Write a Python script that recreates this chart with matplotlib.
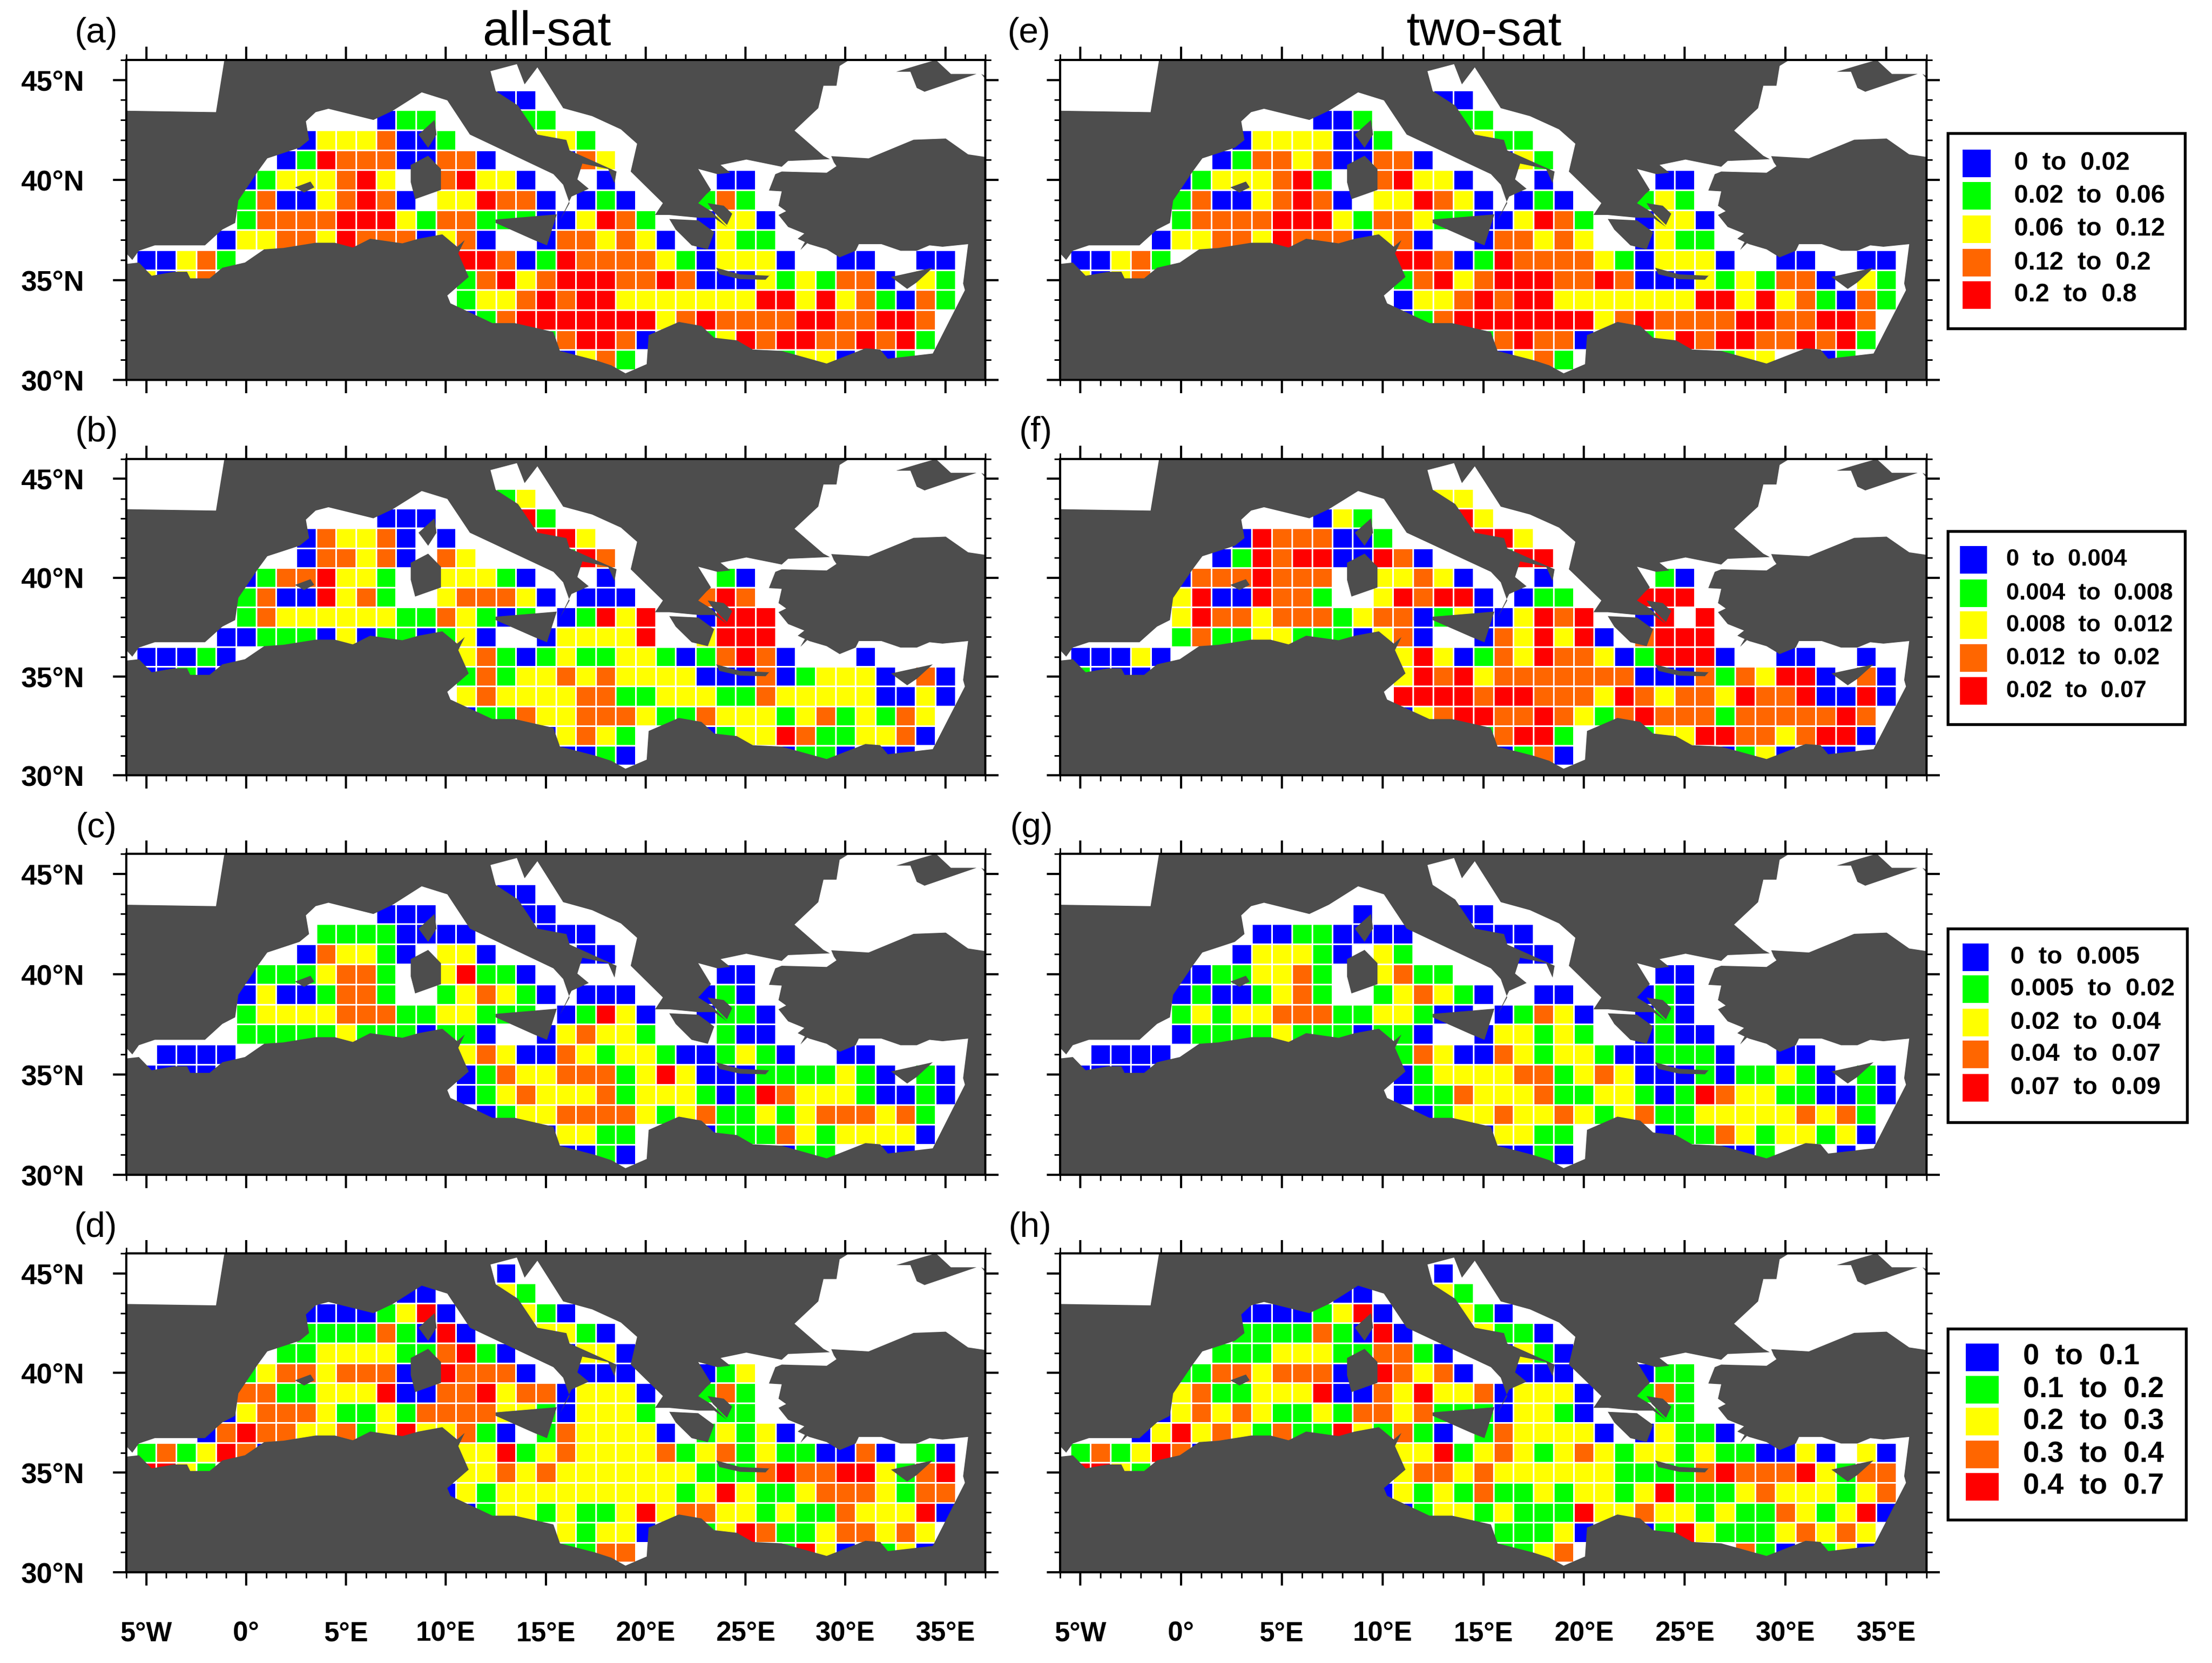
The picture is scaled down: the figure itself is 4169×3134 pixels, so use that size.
import matplotlib
matplotlib.use("Agg")
import matplotlib.pyplot as plt
import numpy as np
from matplotlib.colors import ListedColormap
from matplotlib.patches import Polygon, Rectangle

plt.rcParams['font.family'] = ['Liberation Sans', 'DejaVu Sans']

W, H = 4169, 3134
GRAY = '#4d4d4d'
class_codes = "bgyor"
class_colors = ['#0000ff', '#00ff00', '#ffff00', '#ff6600', '#ff0000']

# class of every 1 degree cell: (lat, first lon, codes), '.' = no data
panel_a = [(44,13,"bb"), (43,7,"bgg"), (43,14,"gg"), (42,3,"byyyobbg"), (42,15,"yyg"),
    (41,2,"bgrooobboob"), (41,16,"boy"), (40,0,"bgyyyory..oryyb"), (40,18,"b"), (40,24,"bb"),
    (39,0,"gobbyorob.yyroob"), (39,17,"bgb"), (39,23,"gog"), (38,0,"goooorrrygooggg"), (38,15,"bbyrog"), (38,23,"byyb"),
    (37,-1,"byyooyrooobyob"), (37,15,"booyoyb"), (37,23,"bygg"), (36,-5,"bbyog"), (36,11,"rrobgrooooygbyyyb"),
    (36,30,"bb"), (36,34,"bb"), (35,-5,"ybyo"), (35,11,"goryorrroorobbbygygoob.yg"),
    (34,11,"gyyororryyyyyyyrryryogbog"), (33,11,"bgorrrrrrryoroooorroorro"),
    (32,15,"gorrob"), (32,23,"gyrorroororg"), (31,16,"byog"), (31,27,"gyyb"), (31,32,"bg")]
panel_b = [(44,13,"gy"), (43,7,"bbb"), (43,14,"rg"), (42,3,"boyyob.b"), (42,15,"rry"),
    (41,3,"booyob.oy"), (41,16,"gro"), (40,0,"bgooryyg..yyygb"), (40,18,"b"), (40,24,"gb"),
    (39,0,"gobbryog..yoooyb"), (39,17,"bbb"), (39,23,"oro"), (38,0,"goyyyyyyggoygbg"), (38,16,"bgryr"), (38,23,"brrr"),
    (37,-1,"bbgggbybggbgyb"), (37,15,"byyyyr"), (37,23,"yrrr"), (36,-5,"bbbgb"), (36,11,"yogbgyggyygbgorob"), (36,31,"b"),
    (35,-5,"bbgb"), (35,11,"gogyyoyoyyyybbbobgyyyb.ob"), (34,11,"yoyyyyooggyyyggoyyyyybbyb"),
    (33,11,"bggoyyoooyggoyyygyogygoy"), (32,15,"byoyg"), (32,23,"bgyyroggyyob"),
    (31,16,"bbgb"), (31,27,"bggb"), (31,32,"bb")]
panel_c = [(44,13,"bb"), (43,7,"bbb"), (43,14,"bb"), (42,4,"ggggbbbb"), (42,15,"bbb"),
    (41,3,"boyygb.yyb"), (41,17,"bb"), (40,0,"bgggyoog..yrggb"), (40,24,"bb"),
    (39,0,"bybbgoog..gyoygb"), (39,17,"bbb"), (39,23,"bgb"), (38,0,"gyyyyoooggyyggg"), (38,16,"bgryb"), (38,23,"bggb"),
    (37,0,"gggggygggbggb"), (37,15,"byoyyg"), (37,24,"gbb"), (36,-4,"bbbb"), (36,11,"yoybboygyygbbgygb"), (36,30,"bb"),
    (35,-5,"bbbb"), (35,11,"bgoyyooogyrybbbggggygb.gb"), (34,11,"bgyoyyyogyyygbgroyyygbbgb"),
    (33,12,"bgyyooooygyoggygyoooyog"), (32,15,"byygg"), (32,23,"bgggoygyyyyb"), (31,16,"bbgb"), (31,27,"bgg"), (31,32,"bb")]
panel_d = [(45,13,"b"), (44,8,"bb"), (44,13,"yg"), (43,3,"bbbbgyrb"), (43,14,"ygb"), (42,3,"ggggogbrb"), (42,15,"yygb"),
    (41,2,"ggyyyyggorgb"), (41,16,"byyb"), (40,0,"gyooyooob.rooob"), (40,17,"bbb"), (40,23,"bgy"),
    (39,0,"ooggyyyrbbooryoob"), (39,17,"yyyb"), (39,23,"gog"),
    (38,-1,"byoooyggygooooyyg"), (38,16,"byyyg"), (38,24,"gg"),
    (37,-2,"borooyyogyryyogb"), (37,15,"goyyyyb"), (37,23,"gygyb"),
    (36,-5,"gogyrob"), (36,11,"yyrgyoyyyyogyogyggbbob.gb"),
    (35,-5,"rryg"), (35,11,"yyoyoyyyyyyygggoroorrygor"),
    (34,10,"bygyyyyyyyyygyryggyoooygoo"),
    (33,11,"bgyygyggyryooyygyggoyyyrb"), (32,16,"ygyyb"), (32,23,"gyroggyooyoy"),
    (31,16,"ggoo"), (31,27,"gryb"), (31,32,"gyb")]
panel_e = [(44,13,"bb"), (43,7,"bbg"), (43,14,"gg"), (42,3,"byyyybbg"), (42,15,"ygg"),
    (41,2,"bgooyobboob"), (41,16,"byg"), (40,0,"bgyyyorg..oryyb"), (40,18,"b"), (40,24,"bb"),
    (39,0,"gobbyorob.yyroyb"), (39,17,"bgb"), (39,23,"gyg"), (38,0,"goooorrrygooygg"), (38,15,"bbyrog"), (38,23,"byyb"),
    (37,-1,"byyooyrooobyob"), (37,15,"booyoy"), (37,23,"bygg"), (36,-5,"bbyog"), (36,11,"rrobgrooooygbyyyb"),
    (36,30,"bb"), (36,34,"bb"), (35,-5,"ybyo"), (35,11,"goryorrroorobbbygygoob.yg"),
    (34,11,"byyororryyyyyyyrryryogbog"), (33,11,"bgorrrrrrryoroooorroorro"),
    (32,15,"goroob"), (32,23,"gyrorroororg"), (31,16,"byog"), (31,27,"gyy"), (31,32,"bg")]
panel_f = [(44,13,"yy"), (43,7,"byg"), (43,14,"ry"), (42,3,"brooobbg"), (42,15,"rry"),
    (41,2,"bgrorrbbrob"), (41,16,"grr"), (40,0,"booorooo..yyoyb"), (40,18,"b"), (40,24,"gb"),
    (39,0,"yrbbroog..yrorrb"), (39,17,"bgg"), (39,23,"rrr"), (38,0,"yrooyooogyoobgy"), (38,15,"bbyror"), (38,23,"br.r"),
    (37,0,"goggyygggbyob"), (37,15,"boyryrb"), (37,23,"orrr"),
    (36,-5,"bbbyb"), (36,11,"yrybgoyrooybgrrrb"), (36,30,"bb"), (36,34,"b"), (35,-5,"gbbb"),
    (35,11,"yroryooooooobbbogoyrrb.ob"), (34,11,"rrrrorroooyroyooyroorbbrb"),
    (33,11,"byorrooroygorooogoooooro"),
    (32,15,"gorrg"), (32,23,"gyyrrooyorrb"), (31,16,"bgob"), (31,27,"bgyb"), (31,32,"bb")]
panel_g = [(43,9,"b"), (43,14,"bb"), (42,4,"bbggbbbb"), (42,15,"bbb"), (41,3,"byyygb.yg"), (41,17,"bb"),
    (40,0,"bbggyyog..yogg"), (40,24,"bb"), (39,0,"bgbbgyog..gyoygb"), (39,18,"bb"), (39,23,"bgb"),
    (38,0,"gygyyoooggyygbb"), (38,16,"bgoyb"), (38,23,"bgb"), (37,0,"bggggygggbggb"), (37,15,"byygyg"), (37,23,"bgbb"),
    (36,-4,"bbbb"), (36,11,"goybboygyygbbgggb"), (36,30,"bb"), (35,-5,"bbbb"), (35,11,"bgyyyyoogyoybbbgbggygb.gb"),
    (34,11,"bggoyyyoggyygbgroyyggbbgb"), (33,12,"bgyyoyyoygyoggyyyyyoyog"), (32,15,"byygg"), (32,24,"bggoygyygyb"),
    (31,16,"bbgb"), (31,27,"bbg"), (31,33,"b")]
panel_h = [(45,13,"b"), (44,8,"bb"), (44,13,"yg"), (43,3,"bbbbgyrb"), (43,14,"ygb"), (42,3,"ggggogbrb"), (42,15,"yggb"),
    (41,2,"gggyyyggoogb"), (41,16,"bygb"), (40,0,"ggooyooob.royob"), (40,17,"bbb"), (40,23,"bgg"),
    (39,0,"yoggyyyrbboyryyob"), (39,17,"yyyb"), (39,23,"gog"), (38,-1,"byoyoyggygooyoggg"), (38,16,"byygb"), (38,24,"gg"),
    (37,-2,"byryoygoggrygogb"), (37,15,"goyyyyb"), (37,23,"byggb"),
    (36,-5,"gogyrob"), (36,11,"yyrgyoygyoygyygyggbbyb.yb"), (35,-5,"rryg"), (35,11,"yooyoyyyyyyggggorooorygoo"),
    (34,10,"bygygoggygyygyrgggyoyyygyo"), (33,11,"bgyygygggryyoyygyggoygyrb"), (32,16,"gggyb"), (32,23,"bgrygggyoyoy"),
    (31,16,"ggyo"), (31,28,"ogb"), (31,32,"gyb")]

# coastlines, lon/lat
europe_lon = [-6,-5.7,-5.37,-4.57,-2.06,-1.19,-0.55,-0.39,0.58,1.06,2.67,3.15,2.99,3.48,4.12,6.37,7.34,8.79,10.07,11.2,15.38,15.87,16.19,15.71,16.29,17.15,16.58,16.83,18.12,18.44,18.54,16.19,16.03,14.58,13.61,12.49,12.23,13.55,13.94,14.58,15.87,17.32,18.76,19.57,19.25,20.86,20.47,21.18,22.63,23.43,24.07,23.27,22.63,23.05,23.27,22.63,23.59,24.24,23.75,25.04,26.81,27.13,29.22,28.9,27.45,28.64,28.9,29.55,29.71,30.19,-1.09,-1.51,-6]
europe_lat = [36.33,36.0,36.46,36.73,36.73,37.52,37.85,38.97,40.42,41.08,41.61,42.0,42.93,43.39,43.56,43.0,43.46,44.38,43.98,42.27,40.29,39.76,38.84,37.98,39.17,39.56,40.03,40.82,40.55,39.83,40.42,41.48,42.0,42.27,43.72,44.45,45.44,45.79,44.78,45.63,43.59,43.19,42.53,41.81,40.42,38.84,38.25,38.25,38.11,38.11,37.65,38.44,38.84,39.3,39.5,40.55,40.29,40.36,40.75,41.02,40.66,40.95,41.04,41.21,42.47,43.59,44.71,44.71,45.7,46,46,43.39,43.46]
south_lon = [-6,-6,-5.37,-4.73,-3.6,-2.96,-2.8,-1.83,-1.19,-0.06,0.9,1.87,3.48,4.44,5.34,6.21,7.82,8.63,9.82,10.56,10.94,10.62,11.14,10.07,10.23,11.36,12.33,13.45,15.38,15.71,17.48,18.28,18.99,20.05,20.15,21.66,22.79,23.43,24.56,25.36,26.81,29.06,31.0,31.74,32.12,34.37,35.98,35.89,36.14,34.86,34.21,33.57,32.76,31.8,30.67,30.51,29.71,29.06,28.19,27.61,27.94,27.13,26.65,27.03,26.65,26.81,26.17,26.49,26.81,29.06,29.55,29.42,29.29,31.16,33.41,35.02,36.14,37,37]
south_lat = [30,35.8,35.87,35.21,35.41,35.41,35.08,35.08,35.61,35.87,36.53,36.6,36.86,36.86,36.62,37.06,36.83,37.06,37.28,36.66,36.99,36.33,35.15,34.22,33.83,33.3,32.84,32.84,32.4,31.45,30.99,30.73,30.33,30.79,32.24,32.9,32.7,32.11,31.98,31.52,31.45,30.82,31.58,31.52,31.06,31.32,34.49,34.82,36.79,36.66,36.73,36.46,36.46,36.79,36.79,36.46,36.13,36.53,36.79,37.06,37.32,37.65,38.25,38.44,38.71,39.43,39.47,40.29,40.42,40.36,40.69,40.88,41.19,41.08,42.01,42.07,41.28,41.15,30]
islands = [
    ([8.63,9.43,9.53,9.11], [42.27,43.0,42.27,41.61]),
    ([8.24,9.11,9.75,9.75,8.46,8.24], [40.75,41.21,40.55,39.5,39.04,39.89]),
    ([2.45,3.22,3.41,2.9], [39.63,39.92,39.63,39.37]),
    ([12.49,15.55,15.06,14.42,12.49], [38.02,38.28,36.73,36.99,37.85]),
    ([21.18,22.63,23.43,23.11,22.3,21.5], [38.05,37.98,37.39,36.53,36.73,37.52]),
    ([23.1,23.91,24.33,24.07,23.37], [38.84,38.71,38.31,37.75,38.44]),
    ([23.53,24.72,26.17,26.26,26.0,24.72,23.69], [35.61,35.28,35.21,35.3,35.01,35.04,35.28]),
    ([32.28,34.37,33.57,33.09], [35.15,35.61,34.88,34.55]),
    ([27.75,28.2,28.0,27.8], [36.5,36.95,36.95,36.6]),
    ([32.54,33.73,34.53,35.28,36.56,33.96,33.57,33.25], [45.41,45.77,46,45.3,45.3,44.41,44.6,45.41]),
    ([36.8,37,37], [45.3,45.2,45.05]),
]

panel_data = [panel_a, panel_b, panel_c, panel_d, panel_e, panel_f, panel_g, panel_h]
panel_names = ['(a)', '(b)', '(c)', '(d)', '(e)', '(f)', '(g)', '(h)']
row_tops = [113, 865, 1609, 2362]
row_bottoms = [716, 1461, 2214, 2963]
label_y = [63, 815, 1561, 2314]
label_x_left = [182, 183, 182, 180]
label_x_right = [1940, 1952, 1944, 1942]
col_left = [238, 1998]
col_right = [1857, 3631]

xtick_pos = [-5, 0, 5, 10, 15, 20, 25, 30, 35]
xtick_txt = ['5°W', '0°', '5°E', '10°E', '15°E', '20°E', '25°E', '30°E', '35°E']
ytick_pos = [30, 35, 40, 45]
ytick_txt = ['30°N', '35°N', '40°N', '45°N']

legend_labels = [
    ['0  to  0.02', '0.02  to  0.06', '0.06  to  0.12', '0.12  to  0.2', '0.2  to  0.8'],
    ['0  to  0.004', '0.004  to  0.008', '0.008  to  0.012', '0.012  to  0.02', '0.02  to  0.07'],
    ['0  to  0.005', '0.005  to  0.02', '0.02  to  0.04', '0.04  to  0.07', '0.07  to  0.09'],
    ['0  to  0.1', '0.1  to  0.2', '0.2  to  0.3', '0.3  to  0.4', '0.4  to  0.7'],
]
legend_boxes = [(3671, 251, 4118, 619), (3671, 1001, 4118, 1365), (3671, 1750, 4122, 2115), (3671, 2504, 4120, 2864)]
legend_rows = [[308, 369, 432, 495, 556], [1055, 1118, 1178, 1240, 1302], [1804, 1864, 1927, 1987, 2050], [2558, 2619, 2679, 2741, 2802]]
legend_swatch = [(3699, 53), (3694, 51), (3699, 49), (3705, 62)]
legend_text_x = [3796, 3781, 3789, 3813]
legend_fontsize = [11.5, 10.7, 11.4, 13.2]


def to_grid(rows):
    grid = np.full((16, 41), np.nan)
    for lat, lon0, codes in rows:
        for i, c in enumerate(codes):
            if c in class_codes and lon0 + i <= 35:
                grid[lat - 30, lon0 + i + 5] = class_codes.index(c)
    return np.ma.masked_invalid(grid)


fig = plt.figure(figsize=(W / 300, H / 300), dpi=300)
cmap = ListedColormap(class_colors)
lon_edges = np.arange(-5.5, 36, 1)
lat_edges = np.arange(29.5, 46, 1)

for n in range(8):
    col = n // 4
    row = n % 4
    x0 = col_left[col]
    x1 = col_right[col]
    y0 = row_tops[row]
    y1 = row_bottoms[row]
    ax = fig.add_axes([x0 / W, 1 - y1 / H, (x1 - x0) / W, (y1 - y0) / H])
    ax.pcolormesh(lon_edges, lat_edges, to_grid(panel_data[n]), cmap=cmap, vmin=-0.5, vmax=4.5,
                  edgecolors='white', linewidth=0.7)
    ax.add_patch(Polygon(np.column_stack([europe_lon, europe_lat]), fc=GRAY, ec='none', zorder=3))
    ax.add_patch(Polygon(np.column_stack([south_lon, south_lat]), fc=GRAY, ec='none', zorder=3))
    for ilon, ilat in islands:
        ax.add_patch(Polygon(np.column_stack([ilon, ilat]), fc=GRAY, ec='none', zorder=3))
    ax.set_xlim(-6, 37)
    ax.set_ylim(30, 46)
    ax.set_xticks(xtick_pos)
    ax.set_yticks(ytick_pos)
    ax.set_xticks(np.arange(-6, 38), minor=True)
    ax.set_yticks(np.arange(30, 47), minor=True)
    ax.set_xticklabels(xtick_txt if row == 3 else [], fontweight='bold', fontsize=12.4)
    ax.set_yticklabels(ytick_txt if col == 0 else [], fontweight='bold', fontsize=12.8)
    ax.tick_params(which='major', direction='out', length=6, width=1, top=True, right=True)
    ax.tick_params(which='minor', direction='out', length=2.6, width=0.7, top=True, right=True)
    ax.tick_params(axis='x', which='major', pad=16)
    ax.tick_params(axis='y', which='major', pad=13)
    for s in ax.spines.values():
        s.set_linewidth(1.0)
        s.set_zorder(5)

over = fig.add_axes([0, 0, 1, 1], facecolor='none')
over.set_xlim(0, W)
over.set_ylim(H, 0)
over.axis('off')

over.text(1030, 85, 'all-sat', fontsize=21.8, ha='center', va='baseline')
over.text(2797, 85, 'two-sat', fontsize=21.8, ha='center', va='baseline')
for r in range(4):
    over.text(label_x_left[r], label_y[r], panel_names[r], fontsize=16, ha='center', va='center')
    over.text(label_x_right[r], label_y[r], panel_names[r + 4], fontsize=16, ha='center', va='center')

for k in range(4):
    bx0, by0, bx1, by1 = legend_boxes[k]
    over.add_patch(Rectangle((bx0, by0), bx1 - bx0, by1 - by0, fc='white', ec='black', lw=1.3))
    sx, sw = legend_swatch[k]
    for j in range(5):
        yc = legend_rows[k][j]
        over.add_patch(Rectangle((sx, yc - 26), sw, 52, fc=class_colors[j], ec='none'))
        over.text(legend_text_x[k], yc, legend_labels[k][j], fontsize=legend_fontsize[k], fontweight='bold', ha='left', va='center')

fig.savefig('out.png', dpi=300)
